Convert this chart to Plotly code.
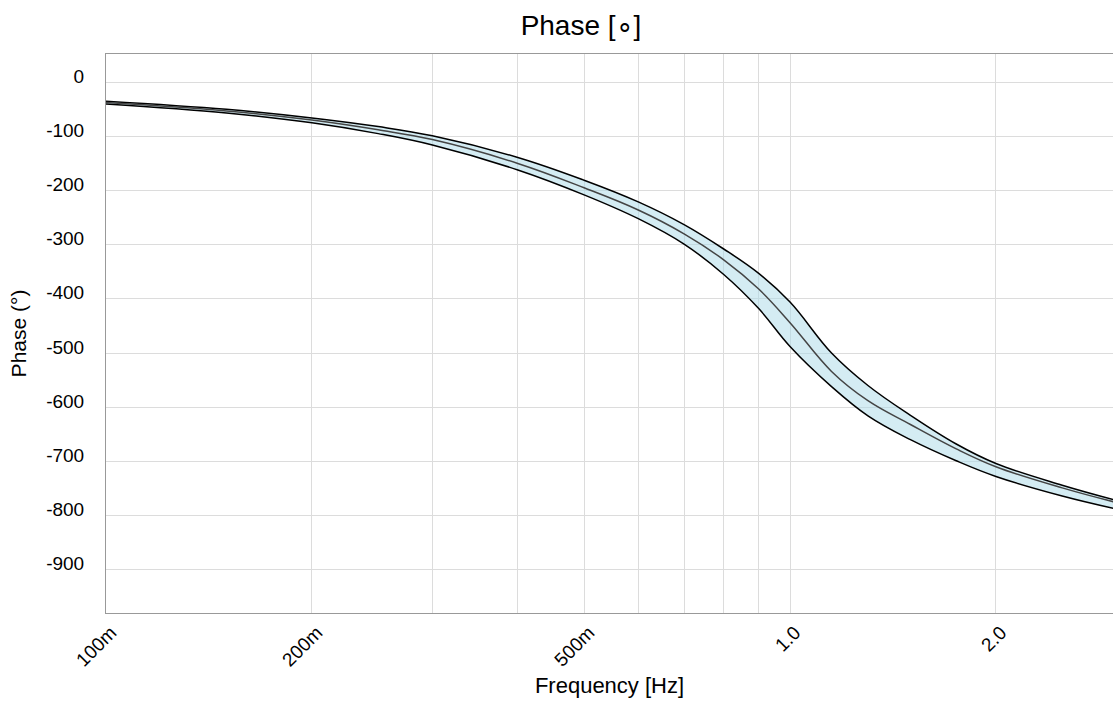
import plotly.graph_objects as go

# Frequency points (Hz) and phase envelopes (degrees)
freq = [0.1, 0.15, 0.2, 0.25, 0.3, 0.4, 0.5, 0.6, 0.7, 0.8, 0.9, 1.0,
        1.15, 1.3, 1.5, 1.75, 2.0, 2.5, 3.0]
phase_upper = [-35, -50, -66, -82, -99, -139, -181, -221, -263, -308, -353, -406,
               -500, -560, -615, -668, -704, -744, -772]
phase_mid = [-37.5, -53, -70, -88, -106, -150, -195, -236, -280, -328, -382, -444,
             -534, -588, -632, -677, -710, -749, -776]
phase_lower = [-40.5, -57, -75, -95, -116, -162, -208, -252, -299, -355, -418, -488,
               -562, -616, -660, -699, -728, -764, -788]

# Axis ticks
x_tickvals = [0.1, 0.2, 0.3, 0.4, 0.5, 0.6, 0.7, 0.8, 0.9, 1.0, 2.0]
x_ticktext = ["100m", "200m", "", "", "500m", "", "", "", "", "1.0", "2.0"]
y_tickvals = [0, -100, -200, -300, -400, -500, -600, -700, -800, -900]
y_ticktext = [str(v) for v in y_tickvals]

FONT = "Liberation Sans, Arial, sans-serif"
SMOOTH = 1.1

fig = go.Figure()
fig.add_trace(go.Scatter(
    x=freq, y=phase_upper, mode="lines",
    line=dict(color="#000000", width=1.5, shape="spline", smoothing=SMOOTH),
    hoverinfo="skip", showlegend=False))
fig.add_trace(go.Scatter(
    x=freq, y=phase_lower, mode="lines", fill="tonexty",
    fillcolor="rgba(170,218,232,0.5)",
    line=dict(color="#000000", width=1.5, shape="spline", smoothing=SMOOTH),
    hoverinfo="skip", showlegend=False))
fig.add_trace(go.Scatter(
    x=freq, y=phase_mid, mode="lines",
    line=dict(color="#444444", width=1.5, shape="spline", smoothing=SMOOTH),
    showlegend=False))

fig.update_layout(
    width=1113, height=713,
    margin=dict(l=106, r=0, t=54, b=100),
    paper_bgcolor="white", plot_bgcolor="white",
    font=dict(family=FONT, color="#000000"),
    title=dict(text="Phase [∘]", x=581 / 1113, xref="container", xanchor="center",
               y=1 - 25 / 713, yref="container", yanchor="middle",
               font=dict(size=28, family=FONT, color="#000000")),
    xaxis=dict(
        type="log", range=[-1, 0.4722],
        tickvals=x_tickvals, ticktext=x_ticktext, tickangle=-45,
        tickfont=dict(size=19), ticks="", ticklabelshift=5,
        showgrid=True, gridcolor="#dcdcdc", gridwidth=1,
        showline=True, linecolor="#999999", linewidth=1, mirror=True,
        zeroline=False,
        title=dict(text="Frequency [Hz]", font=dict(size=22), standoff=8),
    ),
    yaxis=dict(
        range=[-980, 52],
        tickvals=y_tickvals, ticktext=y_ticktext, tickfont=dict(size=19), ticks="",
        ticklabelstandoff=17, ticklabelshift=-6,
        showgrid=True, gridcolor="#dcdcdc", gridwidth=1,
        showline=True, linecolor="#999999", linewidth=1,
        zeroline=False,
        title=dict(text="Phase (°)", font=dict(size=21), standoff=13),
    ),
)

fig.write_html("out.html")
